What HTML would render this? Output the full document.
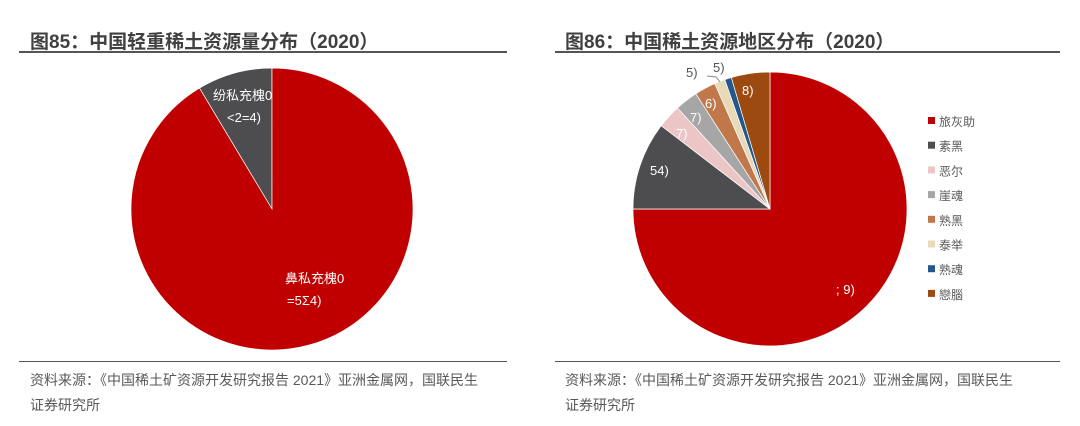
<!DOCTYPE html>
<html><head><meta charset="utf-8"><style>
body{margin:0;width:1080px;height:426px;background:#fff;overflow:hidden;font-family:"Liberation Sans","Noto Sans CJK SC",sans-serif;}
.t{position:absolute;font-weight:bold;font-size:19px;color:#404040;top:27px;}
.ln{position:absolute;height:2px;background:#555;}
.src{position:absolute;font-size:14px;color:#595959;line-height:25px;}
svg{position:absolute;left:0;top:0}
</style></head><body>
<div class="t" style="left:30px">图85：中国轻重稀土资源量分布（2020）</div>
<div class="t" style="left:565px">图86：中国稀土资源地区分布（2020）</div>
<div class="ln" style="left:19px;top:51px;width:488px"></div>
<div class="ln" style="left:555px;top:51px;width:505px"></div>
<div class="ln" style="left:19px;top:361px;width:488px;height:1px"></div>
<div class="ln" style="left:555px;top:361px;width:505px;height:1px"></div>
<div class="src" style="left:30px;top:368px">资料来源：《中国稀土矿资源开发研究报告 2021》亚洲金属网，国联民生<br>证券研究所</div>
<div class="src" style="left:565px;top:368px">资料来源：《中国稀土矿资源开发研究报告 2021》亚洲金属网，国联民生<br>证券研究所</div>
<svg id="s" width="1080" height="426"></svg>
<script>
const leftCats=["重稀土","轻稀土"];
const leftVals=[8.6,91.4];
const leftColors=["#4d4d4f","#c00000"];
const rightCats=["旅灰助","素黑","恶尔","崖魂","熟黑","泰举","熟魂","戀腦"];
const rightVals=[75,10.4,2.8,2.7,2.5,1.25,0.8,4.55];
const rightColors=["#c00000","#4d4d4f","#ecc5c6","#a6a6a6","#c0784a","#e8d9b8","#24578e","#9c4a10"];
const NS="http://www.w3.org/2000/svg";
const svg=document.getElementById('s');
function pt(cx,cy,r,a){return [cx+r*Math.sin(a),cy-r*Math.cos(a)];}
function pie(cx,cy,r,vals,cols,dir,start,prefix){
  const tot=vals.reduce((a,b)=>a+b,0);let a0=start;
  vals.forEach((v,i)=>{
    const a1=a0+dir*v/tot*2*Math.PI;
    const p0=pt(cx,cy,r,a0),p1=pt(cx,cy,r,a1);
    const large=Math.abs(a1-a0)>Math.PI?1:0;
    const p=document.createElementNS(NS,'path');
    p.setAttribute('d',`M${cx},${cy}L${p0[0]},${p0[1]}A${r},${r} 0 ${large} ${dir>0?1:0} ${p1[0]},${p1[1]}Z`);
    p.setAttribute('fill',cols[i]);p.setAttribute('stroke','#fff');p.setAttribute('stroke-width','0.7');
    
    
    svg.appendChild(p);a0=a1;
  });
}
pie(272,209,141,leftVals,leftColors,-1,0,'left-pie');
pie(770,209,137,rightVals,rightColors,1,0,'right-pie');
function txt(x,y,s,fill,name,size){const t=document.createElementNS(NS,'text');t.setAttribute('x',x);t.setAttribute('y',y);t.setAttribute('fill',fill||'#fff');t.setAttribute('font-size',size||13);t.textContent=s;


svg.appendChild(t);}
txt(213,100,"纷私充槐0",'#fff','left-label-heavy');
txt(227,122,"<2=4)",'#fff','left-value-heavy');
txt(285,283,"鼻私充槐0",'#fff','left-label-light');
txt(287,305,"=5Σ4)",'#fff','left-value-light');
txt(836,294,"; 9)",'#fff','right-value-1');
txt(650,175,"54)",'#fff','right-value-2');
txt(676,138,"7)",'#fff','right-value-3');
txt(690,122,"7)",'#fff','right-value-4');
txt(705,108,"6)",'#fff','right-value-5');
txt(686,77,"5)",'#555','right-value-6');
txt(713,72,"5)",'#555','right-value-7');
txt(742,95,"8)",'#fff','right-value-8');
const l=document.createElementNS(NS,'path');l.setAttribute('d','M707,76 L716,77 L720,82');l.setAttribute('stroke','#888');l.setAttribute('fill','none');


svg.appendChild(l);
rightCats.forEach((c,i)=>{
  const y=121+i*24.7;
  const r=document.createElementNS(NS,'rect');r.setAttribute('x',928);r.setAttribute('y',y-4);r.setAttribute('width',7);r.setAttribute('height',7);r.setAttribute('fill',rightColors[i]);
  
  
  svg.appendChild(r);
  txt(939,y+5,c,'#595959','legend-entry',12);
});
</script>
</body></html>
